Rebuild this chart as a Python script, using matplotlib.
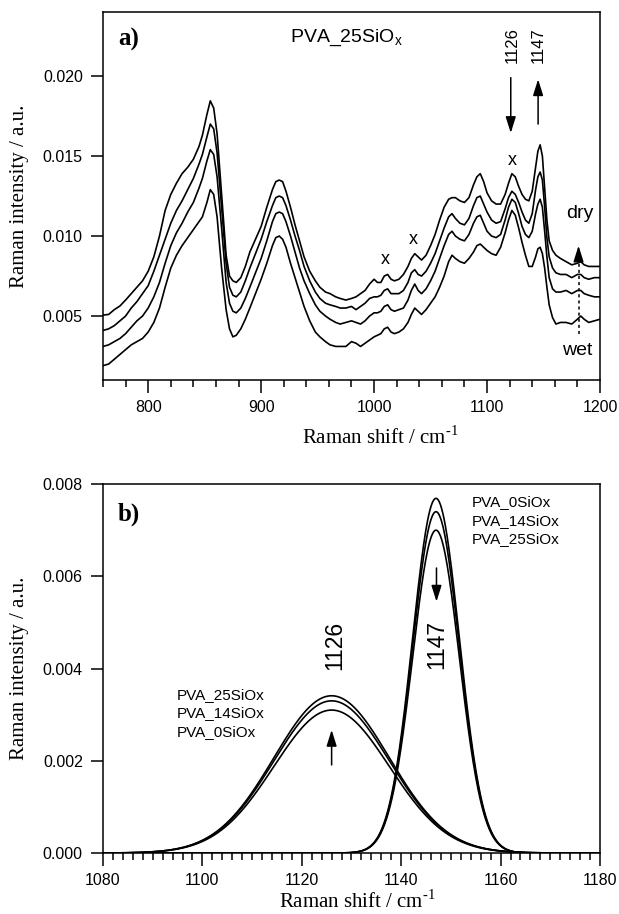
import numpy as np
import matplotlib
matplotlib.use("Agg")
import matplotlib.pyplot as plt
from matplotlib.ticker import MultipleLocator, FormatStrFormatter

plt.rcParams['font.family'] = ['Liberation Sans', 'DejaVu Sans']
plt.rcParams['mathtext.fontset'] = 'custom'
plt.rcParams['mathtext.rm'] = 'Liberation Serif'
plt.rcParams['mathtext.sf'] = 'Liberation Sans'

# ---- panel a: raman spectra of PVA_25SiOx, dry (top) -> wet (bottom)
shift = [760, 765, 770, 775, 780, 785, 790, 795, 800, 805, 810, 815, 820, 825, 830, 835,
         840, 845, 848, 852, 855, 858, 861, 865, 869, 872, 875, 878, 882, 886, 890, 895,
         900, 905, 910, 913, 916, 919, 922, 926, 930, 934, 938, 943, 948, 952, 957, 961,
         966, 970, 975, 980, 984, 988, 992, 996, 1000, 1003, 1006, 1009, 1012, 1015, 1018,
         1022, 1026, 1030, 1033, 1036, 1039, 1042, 1046, 1050, 1054, 1058, 1062, 1066,
         1069, 1072, 1076, 1080, 1084, 1088, 1091, 1094, 1097, 1100, 1104, 1108, 1112,
         1116, 1119, 1122, 1125, 1128, 1131, 1134, 1137, 1140, 1143, 1145, 1147, 1149,
         1151, 1153, 1155, 1158, 1161, 1165, 1170, 1175, 1180, 1183, 1186, 1190, 1195, 1200]

spec_dry = [0.00506, 0.0051, 0.0054, 0.00563, 0.0060, 0.0064, 0.0068, 0.0072, 0.0078,
            0.0087, 0.0100, 0.0116, 0.0126, 0.0133, 0.0139, 0.0143, 0.0148, 0.0156, 0.0163,
            0.0176, 0.01845, 0.0180, 0.0164, 0.0126, 0.0088, 0.0075, 0.0072, 0.0071, 0.0074,
            0.0081, 0.0090, 0.0098, 0.0106, 0.0118, 0.0129, 0.0134, 0.0135, 0.0134, 0.0128,
            0.0118, 0.0107, 0.0097, 0.0087, 0.0078, 0.0072, 0.0068, 0.0065, 0.0064, 0.0062,
            0.0061, 0.0060, 0.0061, 0.0062, 0.0064, 0.0066, 0.0070, 0.0073, 0.0071, 0.0071,
            0.0075, 0.0076, 0.0073, 0.0072, 0.0073, 0.0076, 0.0081, 0.0086, 0.0089, 0.0087,
            0.0085, 0.0088, 0.0094, 0.0101, 0.0110, 0.0118, 0.0123, 0.0124, 0.0124, 0.0122,
            0.0121, 0.0124, 0.0132, 0.0137, 0.0139, 0.0134, 0.0127, 0.0122, 0.0120, 0.0120,
            0.0126, 0.0133, 0.0139, 0.0137, 0.0131, 0.0126, 0.0123, 0.0122, 0.0128, 0.0143,
            0.0153, 0.0157, 0.0150, 0.0130, 0.0110, 0.0097, 0.0091, 0.0088, 0.0086, 0.0084,
            0.0082, 0.0083, 0.0084, 0.0082, 0.0081, 0.0081, 0.0081]

spec_2 = [0.0041, 0.0042, 0.0044, 0.0047, 0.0050, 0.0055, 0.0059, 0.0064, 0.0069, 0.0078,
          0.0088, 0.0098, 0.0108, 0.0116, 0.0122, 0.0129, 0.0136, 0.0145, 0.0151, 0.0162,
          0.0170, 0.0167, 0.0152, 0.0118, 0.0083, 0.0068, 0.0063, 0.0062, 0.0065, 0.0072,
          0.0080, 0.0089, 0.0098, 0.0109, 0.0119, 0.0124, 0.0125, 0.0124, 0.0119, 0.0110,
          0.0100, 0.0091, 0.0081, 0.0072, 0.0065, 0.0061, 0.0058, 0.0057, 0.0056, 0.0055,
          0.0055, 0.0056, 0.0054, 0.0056, 0.0058, 0.0061, 0.0062, 0.0062, 0.0063, 0.0066,
          0.0067, 0.0064, 0.0064, 0.0064, 0.0066, 0.0071, 0.0077, 0.0079, 0.0076, 0.0075,
          0.0078, 0.0083, 0.0089, 0.0097, 0.0105, 0.0112, 0.0114, 0.0111, 0.0108, 0.0107,
          0.0111, 0.0119, 0.0124, 0.0125, 0.0120, 0.0115, 0.0110, 0.0108, 0.0109, 0.0117,
          0.0124, 0.0128, 0.0126, 0.0121, 0.0115, 0.0110, 0.0108, 0.0114, 0.0129, 0.0137,
          0.0140, 0.0135, 0.0118, 0.0099, 0.0087, 0.0080, 0.0077, 0.0076, 0.0076, 0.0074,
          0.0076, 0.0076, 0.0074, 0.0073, 0.0074, 0.0074]

spec_3 = [0.0031, 0.0032, 0.0034, 0.0036, 0.0039, 0.0043, 0.0047, 0.0050, 0.0055, 0.0062,
          0.0071, 0.0083, 0.0094, 0.0102, 0.0108, 0.0115, 0.0121, 0.0130, 0.0136, 0.0147,
          0.0154, 0.0151, 0.0137, 0.0105, 0.0071, 0.0058, 0.0053, 0.0052, 0.0055, 0.0061,
          0.0068, 0.0077, 0.0086, 0.0097, 0.0109, 0.0114, 0.0115, 0.0114, 0.0109, 0.0100,
          0.0090, 0.0080, 0.0072, 0.0064, 0.0057, 0.0053, 0.0050, 0.0048, 0.0046, 0.0045,
          0.0046, 0.0047, 0.0046, 0.0045, 0.0047, 0.0050, 0.0052, 0.0052, 0.0053, 0.0056,
          0.0057, 0.0054, 0.0053, 0.0054, 0.0055, 0.0060, 0.0066, 0.0070, 0.0066, 0.0064,
          0.0067, 0.0072, 0.0078, 0.0086, 0.0094, 0.0101, 0.0103, 0.0100, 0.0098, 0.0097,
          0.0101, 0.0108, 0.0112, 0.0113, 0.0108, 0.0103, 0.0100, 0.0099, 0.0101, 0.0110,
          0.0118, 0.0123, 0.0121, 0.0114, 0.0106, 0.0101, 0.0099, 0.0103, 0.0114, 0.0120,
          0.0123, 0.0118, 0.0103, 0.0087, 0.0074, 0.0067, 0.0065, 0.0065, 0.0066, 0.0064,
          0.0066, 0.0066, 0.0064, 0.0063, 0.0062, 0.0062]

spec_wet = [0.0019, 0.0020, 0.0023, 0.0026, 0.0029, 0.0032, 0.0034, 0.0036, 0.0040, 0.0046,
            0.0055, 0.0068, 0.0080, 0.0088, 0.0094, 0.0099, 0.0104, 0.0109, 0.0112, 0.0121,
            0.0129, 0.0126, 0.0112, 0.0080, 0.0054, 0.0042, 0.0037, 0.0038, 0.0042, 0.0048,
            0.0055, 0.0064, 0.0073, 0.0083, 0.0094, 0.0099, 0.0100, 0.0098, 0.0093, 0.0083,
            0.0074, 0.0065, 0.0056, 0.0047, 0.0040, 0.0037, 0.0034, 0.0032, 0.0031, 0.0031,
            0.0031, 0.0034, 0.0033, 0.0031, 0.0033, 0.0035, 0.0037, 0.0038, 0.0039, 0.0042,
            0.0043, 0.0040, 0.0039, 0.0040, 0.0042, 0.0046, 0.0051, 0.0055, 0.0053, 0.0051,
            0.0054, 0.0058, 0.0062, 0.0068, 0.0075, 0.0084, 0.0088, 0.0086, 0.0084, 0.0083,
            0.0086, 0.0090, 0.0094, 0.0095, 0.0093, 0.0091, 0.0089, 0.0088, 0.0093, 0.0102,
            0.0110, 0.0116, 0.0113, 0.0105, 0.0096, 0.0088, 0.0081, 0.0081, 0.0087, 0.0092,
            0.0093, 0.0089, 0.0080, 0.0068, 0.0057, 0.0049, 0.0045, 0.0046, 0.0046, 0.0045,
            0.0048, 0.0050, 0.0048, 0.0046, 0.0047, 0.0048]

# ---- panel b: fitted bands at 1126 and 1147 cm-1
samples = ['PVA_0SiOx', 'PVA_14SiOx', 'PVA_25SiOx']
band_1126_height = [0.00310, 0.00330, 0.00341]
band_1147_height = [0.00769, 0.00740, 0.00700]
band_1126_center = 1126
band_1147_center = 1147
band_1126_sigma = 11.6
band_1147_sigma = 4.7

fig = plt.figure(figsize=(6.19, 9.14), dpi=100)
ax1 = fig.add_axes([0.1664, 0.5842, 0.8029, 0.4026])
ax2 = fig.add_axes([0.1664, 0.0667, 0.8029, 0.4037])

lw = 1.2
serif = 'Liberation Serif'

for spec in [spec_dry, spec_2, spec_3, spec_wet]:
    ax1.plot(shift, spec, color='black', lw=lw)

ax1.set_xlim(760, 1200)
ax1.set_ylim(0.001, 0.024)
ax1.xaxis.set_major_locator(MultipleLocator(100))
ax1.xaxis.set_minor_locator(MultipleLocator(20))
ax1.yaxis.set_major_locator(MultipleLocator(0.005))
ax1.yaxis.set_major_formatter(FormatStrFormatter('%.3f'))

ax1.text(0.03, 0.910, 'a)', transform=ax1.transAxes, fontsize=18, fontweight='bold',
         family=serif, va='baseline')
ax1.text(0.376, 0.919, r'PVA_25SiO$_{\mathsf{x}}$', transform=ax1.transAxes,
         fontsize=14, va='baseline')

# band markers
ax1.text(1122.5, 0.02194, '1126', rotation=90, ha='center', va='center', fontsize=12)
ax1.text(1145.5, 0.02194, '1147', rotation=90, ha='center', va='center', fontsize=12)
arrow = dict(arrowstyle='-|>,head_length=0.7,head_width=0.22', color='black', lw=1.1,
             shrinkA=0, shrinkB=0, mutation_scale=14)
ax1.annotate('', xy=(1121, 0.01644), xytext=(1121, 0.0199), arrowprops=arrow)
ax1.annotate('', xy=(1145.2, 0.0198), xytext=(1145.2, 0.0170), arrowprops=arrow)

for xm, ym in [(1010, 0.00856), (1035, 0.0098), (1122, 0.0147)]:
    ax1.text(xm, ym, 'x', ha='center', va='center', fontsize=13)

# dry / wet direction
ax1.plot([1181, 1181], [0.0039, 0.0089], color='black', lw=1.1, ls=(0, (2, 2)))
ax1.annotate('', xy=(1181, 0.0094), xytext=(1181, 0.0088), arrowprops=arrow)
ax1.text(1182, 0.01138, 'dry', ha='center', va='center', fontsize=14)
ax1.text(1180, 0.00287, 'wet', ha='center', va='center', fontsize=14)

# panel b
xb = np.linspace(1080, 1180, 801)
for h in band_1126_height:
    ax2.plot(xb, h * np.exp(-(xb - band_1126_center) ** 2 / (2 * band_1126_sigma ** 2)),
             color='black', lw=lw)
for h in band_1147_height:
    ax2.plot(xb, h * np.exp(-(xb - band_1147_center) ** 2 / (2 * band_1147_sigma ** 2)),
             color='black', lw=lw)

ax2.set_xlim(1080, 1180)
ax2.set_ylim(0, 0.008)
ax2.xaxis.set_major_locator(MultipleLocator(20))
ax2.xaxis.set_minor_locator(MultipleLocator(2))
ax2.yaxis.set_major_locator(MultipleLocator(0.002))
ax2.yaxis.set_major_formatter(FormatStrFormatter('%.3f'))

ax2.text(0.03, 0.902, 'b)', transform=ax2.transAxes, fontsize=18, fontweight='bold',
         family=serif, va='baseline')

for name, yy in zip(samples, [0.00761, 0.00720, 0.00680]):
    ax2.text(1154.2, yy, name, ha='left', va='center', fontsize=11)
for name, yy in zip(samples[::-1], [0.00342, 0.00303, 0.00263]):
    ax2.text(1094.8, yy, name, ha='left', va='center', fontsize=11)

ax2.text(1126.7, 0.00451, '1126', rotation=90, ha='center', va='center', fontsize=16.5)
ax2.text(1147.1, 0.00453, '1147', rotation=90, ha='center', va='center', fontsize=16.5)
ax2.annotate('', xy=(1147.1, 0.00545), xytext=(1147.1, 0.00618), arrowprops=arrow)
ax2.annotate('', xy=(1126, 0.00267), xytext=(1126, 0.00191), arrowprops=arrow)

for ax in [ax1, ax2]:
    for sp in ax.spines.values():
        sp.set_linewidth(1.1)
    ax.tick_params(which='both', direction='out', top=False, right=False, width=1.1,
                   labelsize=11.5)
    ax.tick_params(which='major', length=9, pad=5.5)
    ax.tick_params(which='minor', length=5)
    ax.set_ylabel('Raman intensity / a.u.', family=serif, fontsize=15, va='center')
    ax.yaxis.set_label_coords(-0.168, 0.5)
    ax.set_xlabel(r'Raman shift / cm$^{\text{-1}}$', family=serif, fontsize=15,
                  va='center')

ax1.xaxis.set_label_coords(0.559, -0.155)
ax2.xaxis.set_label_coords(0.511, -0.130)

fig.savefig('out.png', dpi=100)
